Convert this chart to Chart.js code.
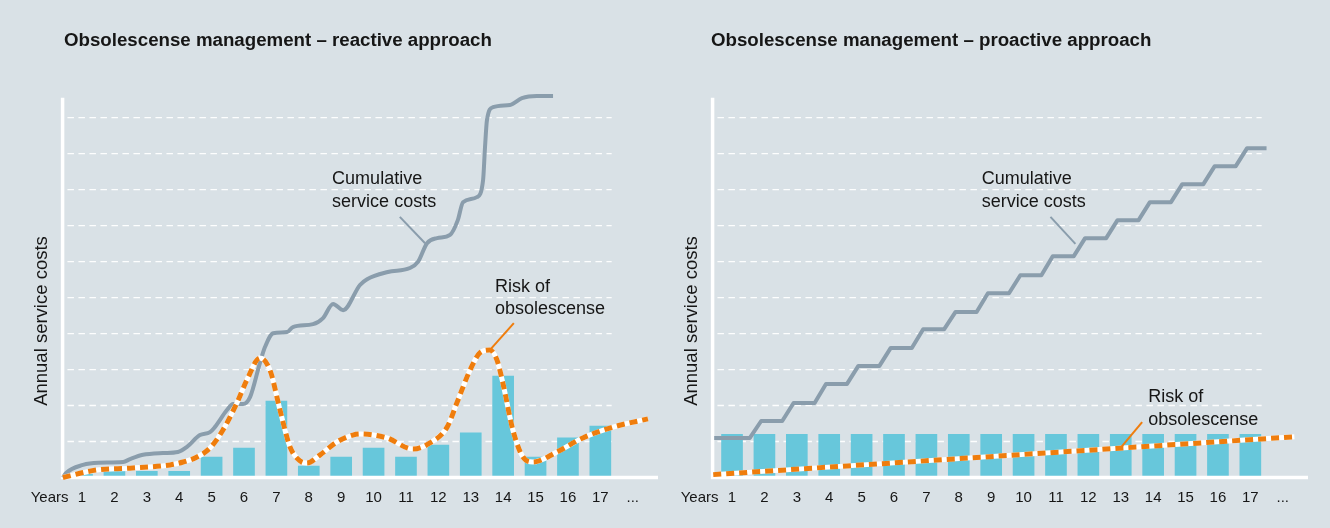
<!DOCTYPE html>
<html>
<head>
<meta charset="utf-8">
<script src="https://cdn.jsdelivr.net/npm/chart.js@4.4.1/dist/chart.umd.min.js"></script>
<style>
  html, body { margin: 0; padding: 0; background: #d9e1e6; }
  body { width: 1330px; height: 528px; position: relative; overflow: hidden; }
  canvas { position: absolute; top: 0; }
  #reactive { left: 0; }
  #proactive { left: 650px; }
</style>
</head>
<body>
<canvas id="reactive" width="660" height="528"></canvas>
<canvas id="proactive" width="660" height="528"></canvas>
<script>
// ---- data -------------------------------------------------------------
const yearLabels = ['Years', '1', '2', '3', '4', '5', '6', '7', '8', '9', '10',
                    '11', '12', '13', '14', '15', '16', '17', '...'];
const years = [1, 2, 3, 4, 5, 6, 7, 8, 9, 10, 11, 12, 13, 14, 15, 16, 17];

// annual service costs per year
const reactiveAnnual = [0.1, 0.17, 0.17, 0.17, 0.57, 0.82, 2.12, 0.32, 0.57,
                        0.82, 0.57, 0.9, 1.24, 2.82, 0.57, 1.1, 1.43];
const proactiveAnnual = [1.2, 1.2, 1.2, 1.2, 1.2, 1.2, 1.2, 1.2, 1.2,
                         1.2, 1.2, 1.2, 1.2, 1.2, 1.2, 1.2, 1.2];

// reactive: cumulative service costs (year, value)
const reactiveCumYear = [0.41, 0.5, 1.03, 1.5, 2.27, 2.48, 2.88, 3.5, 3.96, 4.24,
  4.64, 4.95, 5.1, 5.48, 5.66, 5.97, 6.19, 6.49, 6.65, 6.9, 7.33, 7.51, 8.13,
  8.44, 8.75, 9.06, 9.58, 9.8, 10.44, 11.12, 11.37, 11.65, 11.96, 12.36, 12.6,
  12.76, 13.19, 13.38, 13.44, 13.5, 13.69, 14.21, 14.58, 15.04, 15.54];
const reactiveCum = [0, 0.12, 0.35, 0.41, 0.43, 0.51, 0.63, 0.68, 0.71, 0.85,
  1.18, 1.26, 1.4, 1.88, 2.04, 2.04, 2.24, 3.18, 3.63, 4.01, 4.04, 4.18, 4.26,
  4.43, 4.82, 4.65, 5.35, 5.51, 5.71, 5.82, 5.99, 6.51, 6.65, 6.74, 7.15,
  7.65, 7.79, 8.26, 9.18, 9.93, 10.29, 10.35, 10.54, 10.6, 10.6];

// reactive: risk of obsolescense (year, value)
const reactiveRiskYear = [0.41, 1.46, 2.48, 3.72, 4.12, 4.55, 4.95, 5.35, 5.78,
  6.09, 6.49, 6.8, 7.11, 7.42, 7.73, 7.94, 8.35, 8.87, 9.36, 9.58, 10.41, 11.22,
  11.74, 12.27, 12.57, 12.98, 13.28, 13.59, 13.81, 13.99, 14.3, 14.61, 14.92,
  15.66, 16.46, 17.39, 18.47];
const reactiveRisk = [0, 0.21, 0.26, 0.35, 0.43, 0.57, 0.82, 1.32, 2.07,
  2.71, 3.32, 2.99, 1.88, 0.85, 0.46, 0.4, 0.63, 0.99, 1.18, 1.21, 1.1, 0.79,
  0.96, 1.4, 2.07, 2.99, 3.46, 3.54, 3.26, 2.63, 1.32, 0.57, 0.43,
  0.71, 1.1, 1.4, 1.63];

// proactive: cumulative cost level reached in each year (stair steps)
const proactiveCumLevels = [1.1, 1.57, 2.07, 2.6, 3.1, 3.6, 4.12, 4.6, 5.12,
  5.62, 6.15, 6.65, 7.15, 7.65, 8.15, 8.65, 9.15];

// proactive: risk of obsolescense (year, value)
const proactiveRiskYear = [0.42, 18.36];
const proactiveRisk = [0.08, 1.13];

// ---- styling -----------------------------------------------------------
const FONT = '"Liberation Sans", Arial, Helvetica, sans-serif';
const INK = '#161616';
const CYAN = '#67c7db';
const GREY = '#8a9dac';
const ORANGE = '#ef7d0d';

const pts = (xs, ys) => xs.map((x, i) => ({ x, y: ys[i] }));

// stair line: each year's level is held, then climbs to the next one
function stairPoints(levels) {
  const out = [];
  levels.forEach((v, i) => {
    const yr = years[i];
    out.push({ x: i === 0 ? 0.45 : yr - 0.1, y: v });
    out.push({ x: i === levels.length - 1 ? yr + 0.5 : yr + 0.55, y: v });
  });
  return out;
}

// dashed grid, white axes and the chart's texts
const framePlugin = {
  id: 'frame',
  beforeDatasetsDraw(chart) {
    const { ctx, scales: { x, y } } = chart;
    ctx.save();
    ctx.strokeStyle = 'rgba(255,255,255,0.95)';
    ctx.lineWidth = 1.3;
    ctx.setLineDash([6.5, 4.5]);
    for (let v = 1; v <= 10; v++) {
      const py = y.getPixelForValue(v);
      ctx.beginPath();
      ctx.moveTo(x.getPixelForValue(0.55), py);
      ctx.lineTo(x.getPixelForValue(17.35), py);
      ctx.stroke();
    }
    ctx.restore();
  },
  afterDatasetDraw(chart, args) {
    if (args.meta.type !== 'bar') return;
    const { ctx, chartArea, scales: { x, y } } = chart;
    const x0 = x.getPixelForValue(0.4);
    const y0 = y.getPixelForValue(0);
    ctx.save();
    ctx.strokeStyle = '#ffffff';
    ctx.lineWidth = 3.5;
    ctx.beginPath();
    ctx.moveTo(x0, y.getPixelForValue(10.55));
    ctx.lineTo(x0, y0 + 1.75);
    ctx.moveTo(x0 - 1.75, y0);
    ctx.lineTo(chartArea.right, y0);
    ctx.stroke();
    ctx.restore();
  },
  afterDraw(chart) {
    const o = chart.options.plugins.frame;
    const { ctx, scales: { x, y } } = chart;
    ctx.save();
    ctx.fillStyle = INK;
    ctx.textBaseline = 'middle';
    ctx.textAlign = 'left';
    ctx.font = 'bold 18.7px ' + FONT;
    ctx.fillText(o.title, o.titleX, 41);

    ctx.save();
    ctx.translate(42, 321);
    ctx.rotate(-Math.PI / 2);
    ctx.textAlign = 'center';
    ctx.font = '18.5px ' + FONT;
    ctx.fillText('Annual service costs', 0, 0);
    ctx.restore();

    ctx.font = '18px ' + FONT;
    o.notes.forEach(n => {
      const lx = x.getPixelForValue(n.x);
      n.lines.forEach((t, i) => ctx.fillText(t, lx, y.getPixelForValue(n.y[i])));
      ctx.strokeStyle = n.color;
      ctx.lineWidth = 2;
      ctx.beginPath();
      ctx.moveTo(x.getPixelForValue(n.from[0]), y.getPixelForValue(n.from[1]));
      ctx.lineTo(x.getPixelForValue(n.to[0]), y.getPixelForValue(n.to[1]));
      ctx.stroke();
    });
    ctx.restore();
  }
};

function buildChart(id, spec) {
  const risk = pts(spec.riskX, spec.riskY);
  return new Chart(document.getElementById(id), {
    type: 'bar',
    data: {
      datasets: [
        { type: 'line', data: risk, borderColor: ORANGE, borderWidth: 5,
          borderDash: [8, 5], borderCapStyle: 'butt', pointRadius: 0,
          cubicInterpolationMode: 'monotone', clip: false, order: 0 },
        { type: 'line', data: risk, borderColor: '#ffffff', borderWidth: 5,
          pointRadius: 0, cubicInterpolationMode: 'monotone', clip: false, order: 1 },
        { type: 'line', data: spec.cum, borderColor: GREY, borderWidth: 4,
          pointRadius: 0, borderJoinStyle: 'round', clip: false, order: 2,
          cubicInterpolationMode: spec.smooth ? 'monotone' : 'default', tension: 0 },
        { type: 'bar', data: pts(years, spec.annual), backgroundColor: CYAN,
          barThickness: 21, order: 3 }
      ]
    },
    options: {
      responsive: false,
      animation: false,
      events: [],
      layout: { padding: { left: 30.2, right: 2, top: 96, bottom: 0 } },
      plugins: {
        legend: { display: false },
        tooltip: { enabled: false },
        frame: { title: spec.title, titleX: spec.titleX, notes: spec.notes }
      },
      scales: {
        x: {
          type: 'linear', min: -0.6, max: 18.78, offset: false,
          grid: { display: false, drawTicks: false },
          border: { display: false },
          afterBuildTicks: s => { s.ticks = yearLabels.map((_, i) => ({ value: i })); },
          afterFit: s => { s.height = 50.5; },
          ticks: {
            autoSkip: false, maxRotation: 0, padding: 11, color: INK,
            font: { family: FONT, size: 15 },
            callback: v => yearLabels[v]
          }
        },
        y: { display: false, min: 0, max: 10.6 }
      }
    },
    plugins: [framePlugin]
  });
}

buildChart('reactive', {
  title: 'Obsolescense management \u2013 reactive approach',
  titleX: 64,
  annual: reactiveAnnual,
  cum: pts(reactiveCumYear, reactiveCum),
  smooth: true,
  riskX: reactiveRiskYear, riskY: reactiveRisk,
  notes: [
    { x: 8.72, y: [8.29, 7.65], lines: ['Cumulative', 'service costs'],
      color: GREY, from: [10.81, 7.24], to: [11.59, 6.51] },
    { x: 13.75, y: [5.29, 4.68], lines: ['Risk of', 'obsolescense'],
      color: ORANGE, from: [14.33, 4.29], to: [13.56, 3.51] }
  ]
});

buildChart('proactive', {
  title: 'Obsolescense management \u2013 proactive approach',
  titleX: 61,
  annual: proactiveAnnual,
  cum: stairPoints(proactiveCumLevels),
  smooth: false,
  riskX: proactiveRiskYear, riskY: proactiveRisk,
  notes: [
    { x: 8.71, y: [8.29, 7.65], lines: ['Cumulative', 'service costs'],
      color: GREY, from: [10.83, 7.24], to: [11.6, 6.49] },
    { x: 13.85, y: [2.24, 1.6], lines: ['Risk of', 'obsolescense'],
      color: ORANGE, from: [13.66, 1.54], to: [13.02, 0.85] }
  ]
});
</script>
</body>
</html>
